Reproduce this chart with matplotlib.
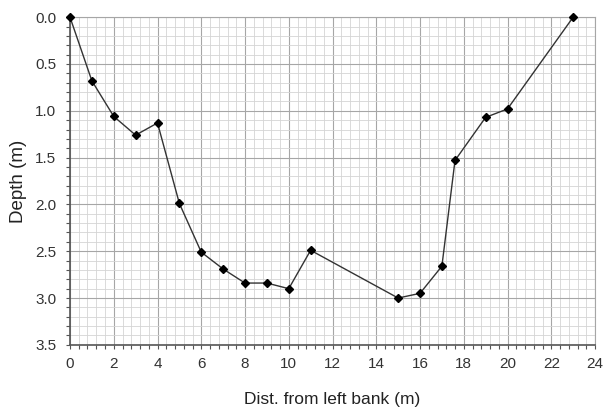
import matplotlib
matplotlib.use("Agg")
import matplotlib.pyplot as plt
from matplotlib.ticker import MultipleLocator

plt.rcParams['font.family'] = ['Liberation Sans', 'DejaVu Sans']

dist = [0, 1, 2, 3, 4, 5, 6, 7, 8, 9, 10, 11, 15, 16, 17, 17.6, 19, 20, 23]
depth = [0.0, 0.68, 1.06, 1.26, 1.13, 1.99, 2.51, 2.69, 2.84, 2.84, 2.90, 2.49,
         3.0, 2.95, 2.66, 1.53, 1.07, 0.98, 0.0]

fig = plt.figure(figsize=(6.05, 4.19), dpi=100)
ax = fig.add_axes([0.1157, 0.177, 0.8678, 0.782])

ax.plot(dist, depth, color='#333333', lw=1.0, marker='D', ms=4,
        mfc='black', mec='black', zorder=3, clip_on=False)

ax.set_xlim(0, 24)
ax.set_ylim(3.5, 0)
ax.xaxis.set_major_locator(MultipleLocator(2))
ax.xaxis.set_minor_locator(MultipleLocator(0.4))
ax.yaxis.set_major_locator(MultipleLocator(0.5))
ax.yaxis.set_minor_locator(MultipleLocator(0.1))
ax.yaxis.set_major_formatter(plt.FormatStrFormatter('%.1f'))

ax.grid(which='minor', color='#d4d4d4', lw=0.6)
ax.grid(which='major', color='#a6a6a6', lw=0.8)
ax.set_axisbelow(True)

for s in ['top', 'right']:
    ax.spines[s].set_color('#a6a6a6')
    ax.spines[s].set_linewidth(0.8)
for s in ['left', 'bottom']:
    ax.spines[s].set_color('#555555')
    ax.spines[s].set_linewidth(1.2)

ax.tick_params(which='both', direction='out', color='#555555', length=3, width=0.8)
ax.tick_params(which='major', labelsize=11, labelcolor='#333333')
ax.tick_params(axis='x', which='major', pad=6)
ax.tick_params(axis='y', which='major', pad=7)

ax.set_xlabel('Dist. from left bank (m)', fontsize=12.5, labelpad=15, color='#222222')
ax.set_ylabel('Depth (m)', fontsize=13.5, labelpad=6, color='#222222')

fig.savefig('out.png', dpi=100, facecolor='white')
